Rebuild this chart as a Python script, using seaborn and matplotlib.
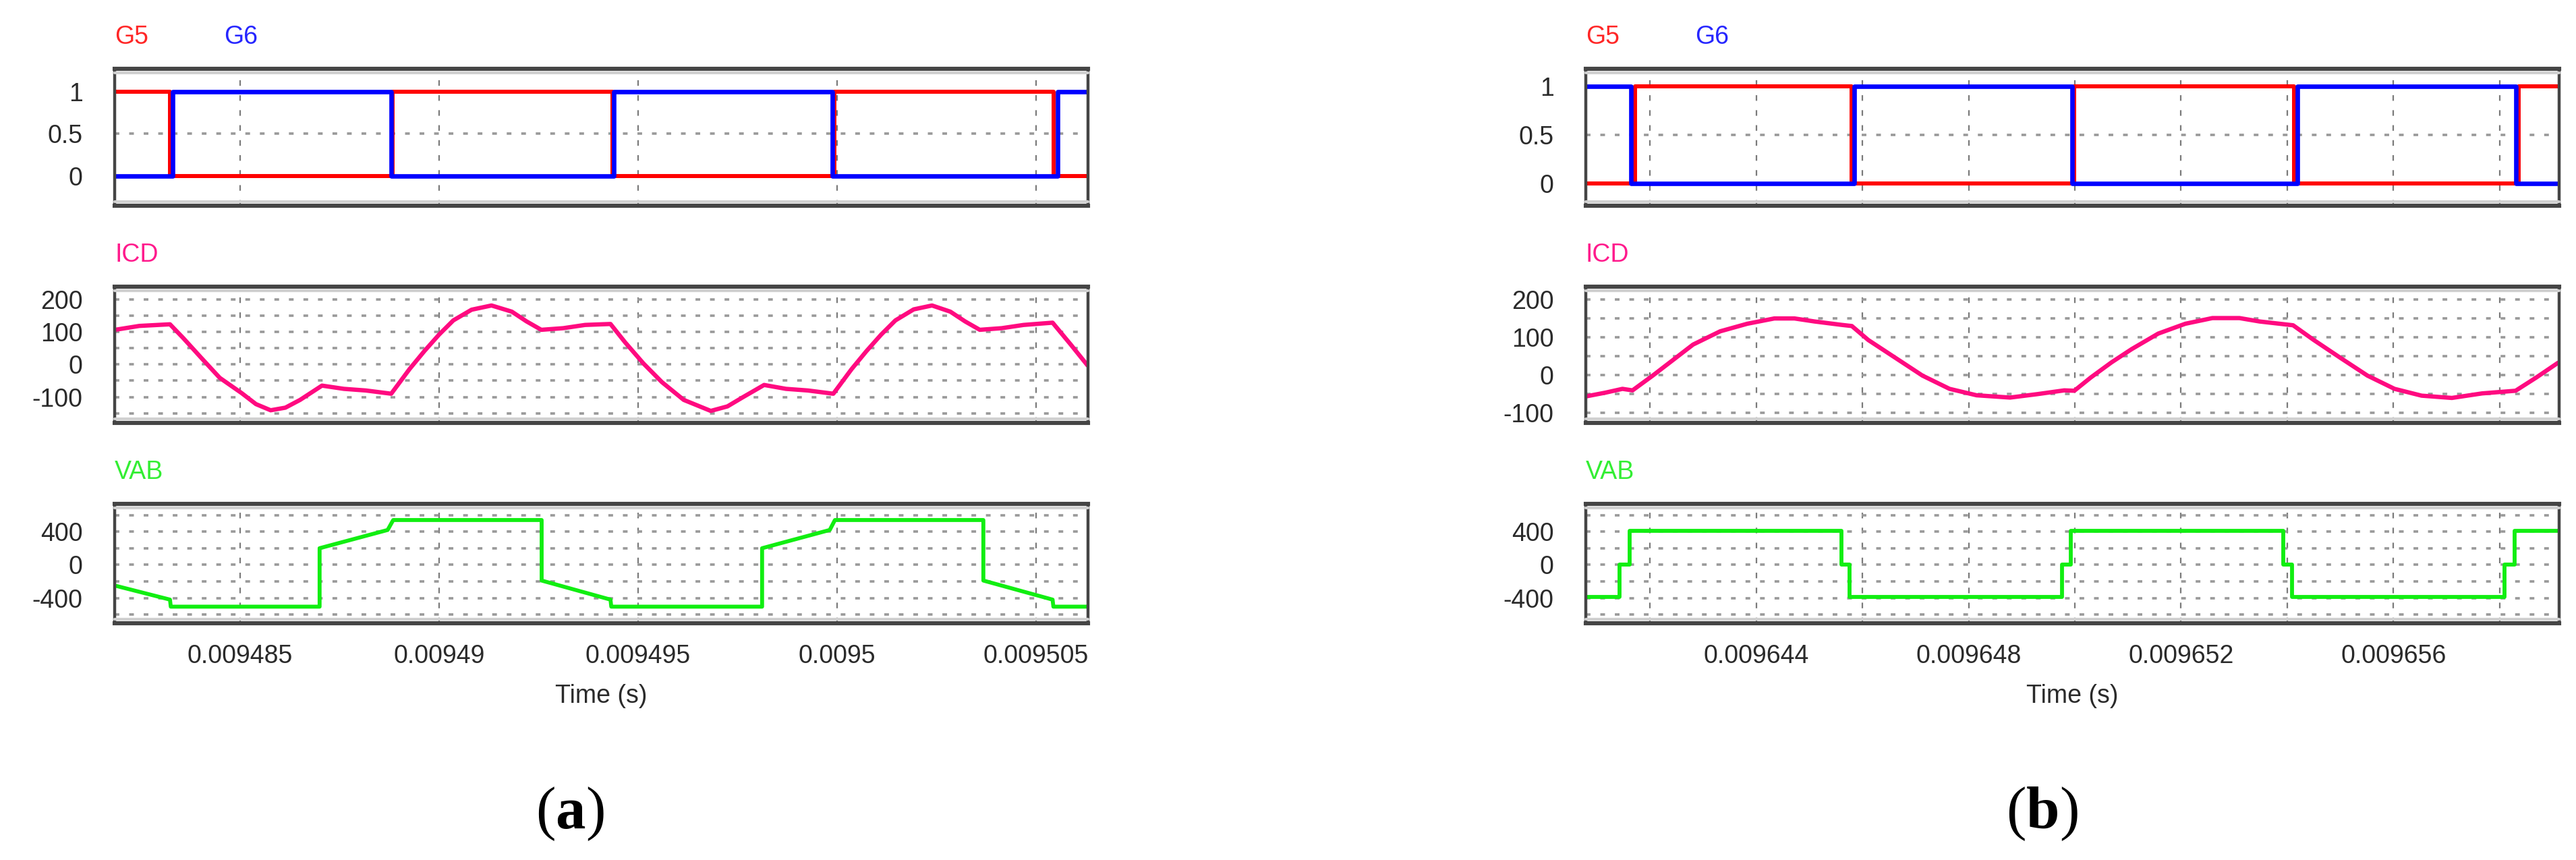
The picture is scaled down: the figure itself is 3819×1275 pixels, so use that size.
import matplotlib
matplotlib.use("Agg")
import matplotlib.pyplot as plt
from matplotlib.transforms import offset_copy
import seaborn as sns
import pandas as pd

# ---- values (time in microseconds) ----

# panel (a)
g5_a_t = [9481.85, 9483.24, 9488.84, 9494.36, 9499.93, 9505.44, 9506.31]
g5_a_v = [1, 0, 1, 0, 1, 0, 0]
g6_a_t = [9481.85, 9483.31, 9488.80, 9494.40, 9499.89, 9505.54, 9506.31]
g6_a_v = [0, 1, 0, 1, 0, 1, 1]

icd_a_t = [9481.86, 9482.47, 9483.24, 9483.57, 9484.03, 9484.49, 9485.04, 9485.40,
           9485.77, 9486.14, 9486.51, 9487.06, 9487.61, 9488.16, 9488.80, 9489.26,
           9489.63, 9490.00, 9490.36, 9490.82, 9491.32, 9491.83, 9492.20, 9492.57,
           9493.12, 9493.67, 9494.31, 9494.68, 9495.14, 9495.60, 9496.15, 9496.83,
           9497.25, 9497.62, 9498.17, 9498.72, 9499.27, 9499.91, 9500.37, 9500.74,
           9501.11, 9501.47, 9501.93, 9502.39, 9502.85, 9503.22, 9503.59, 9504.14,
           9504.69, 9505.42, 9505.88, 9506.30]
icd_a_v = [107, 119, 124, 82, 20, -41, -88, -122,
           -141, -133, -109, -65, -75, -80, -90, -14,
           41, 92, 136, 169, 182, 163, 133, 107,
           112, 122, 125, 68, 3, -54, -109, -143,
           -129, -102, -63, -75, -80, -90, -14, 41,
           92, 136, 170, 182, 163, 133, 107, 112,
           122, 129, 61, -3]

vab_a_t = [9481.85, 9483.24, 9483.26, 9487.00, 9487.00, 9488.71, 9488.85, 9492.58,
           9492.58, 9494.31, 9494.33, 9498.12, 9498.12, 9499.82, 9499.95, 9503.68,
           9503.68, 9505.42, 9505.44, 9506.31]
vab_a_v = [-250, -420, -505, -505, 200, 420, 540, 540,
           -190, -420, -505, -505, 200, 420, 540, 540,
           -190, -420, -505, -505]

# panel (b)
g5_b_t = [9640.79, 9641.72, 9645.80, 9649.99, 9654.13, 9658.36, 9659.12]
g5_b_v = [0, 1, 0, 1, 0, 1, 1]
g6_b_t = [9640.79, 9641.64, 9645.84, 9649.95, 9654.19, 9658.31, 9659.12]
g6_b_v = [1, 0, 1, 0, 1, 0, 0]

icd_b_t = [9640.79, 9641.16, 9641.48, 9641.67, 9642.05, 9642.43, 9642.81, 9643.32,
           9643.83, 9644.34, 9644.72, 9645.10, 9645.61, 9645.80, 9646.11, 9646.62,
           9647.13, 9647.64, 9648.15, 9648.78, 9649.29, 9649.80, 9649.99, 9650.30,
           9650.69, 9651.07, 9651.57, 9652.08, 9652.59, 9653.10, 9653.48, 9654.11,
           9654.50, 9655.00, 9655.51, 9656.02, 9656.53, 9657.10, 9657.67, 9658.30,
           9658.69, 9659.10]
icd_b_v = [-56, -46, -36, -40, -1, 40, 81, 116,
           136, 150, 150, 142, 133, 130, 93, 46,
           -1, -36, -53, -59, -50, -40, -41, -6,
           34, 69, 110, 136, 151, 151, 142, 132,
           93, 46, -1, -36, -54, -60, -48, -41,
           -6, 33]

vab_b_t = [9640.79, 9641.42, 9641.61, 9645.61, 9645.76, 9649.76, 9649.92, 9653.92,
           9654.09, 9658.09, 9658.28, 9659.12]
vab_b_v = [-390, 0, 410, 0, -390, 0, 410, 0, -390, 0, 410, 410]

# axis ranges / ticks
xlim_a = (9481.85, 9506.31)
xlim_b = (9640.79, 9659.12)
xticks_a = [9485, 9490, 9495, 9500, 9505]
xticklabels_a = ["0.009485", "0.00949", "0.009495", "0.0095", "0.009505"]
xgrid_b = [9642, 9644, 9646, 9648, 9650, 9652, 9654, 9656, 9658]
xticks_b = [9644, 9648, 9652, 9656]
xticklabels_b = ["0.009644", "0.009648", "0.009652", "0.009656"]

ylim_gate_a = (-0.352, 1.268)
ylim_gate_b = (-0.232, 1.182)
gate_ticks = [0, 0.5, 1]
gate_labels = ["0", "0.5", "1"]
ylim_icd_a = (-180, 240)
ylim_icd_b = (-126, 234)
icd_grid = [-150, -100, -50, 0, 50, 100, 150, 200]
icd_ticks = [-100, 0, 100, 200]
icd_labels = ["-100", "0", "100", "200"]
ylim_vab = (-705, 735)
vab_grid = [-600, -400, -200, 0, 200, 400, 600]
vab_ticks = [-400, 0, 400]
vab_labels = ["-400", "0", "400"]

RED, BLUE, PINK, GREEN = "#ff0000", "#0000ff", "#ff0a80", "#11ee11"

sns.set_theme(style="white")
plt.rcParams["font.family"] = ["Liberation Sans", "DejaVu Sans"]
plt.rcParams["lines.scale_dashes"] = False
plt.rcParams["mathtext.fontset"] = "custom"
plt.rcParams["mathtext.bf"] = "Liberation Serif:bold"
plt.rcParams["mathtext.rm"] = "Liberation Serif"

W, H = 3819, 1275
fig = plt.figure(figsize=(W / 100, H / 100), dpi=100)

def px_axes(x0, x1, y0, y1):
    return fig.add_axes([x0 / W, 1 - y1 / H, (x1 - x0) / W, (y1 - y0) / H])

def sec(ts):
    return [t * 1e-6 for t in ts]

def frame(ax):
    for s in ["top", "bottom"]:
        ax.spines[s].set_linewidth(4.4)
        ax.spines[s].set_color("#454545")
    for s in ["left", "right"]:
        ax.spines[s].set_linewidth(3.2)
        ax.spines[s].set_color("#454545")
    # light inner band below/above the thick frame lines
    ax.plot([0, 1], [1, 1], transform=offset_copy(ax.transAxes, fig=fig, y=-6, units="dots"),
            color="#d0d0d0", lw=3.0, clip_on=False, zorder=3)
    ax.plot([0, 1], [0, 0], transform=offset_copy(ax.transAxes, fig=fig, y=6, units="dots"),
            color="#d0d0d0", lw=3.0, clip_on=False, zorder=3)
    ax.tick_params(length=0, labelsize=27, labelcolor="#2a2a2a")
    ax.tick_params(axis="y", pad=34)
    ax.tick_params(axis="x", pad=22)

def grid(ax, xg, yg):
    ax.set_axisbelow(True)
    for x in xg:
        ax.axvline(x * 1e-6, color="#7a7a7a", lw=1.6, ls=(0, (6, 10)), zorder=0.5)
    for y in yg:
        ax.axhline(y, color="#999999", lw=2.6, ls=(0, (5, 10.5)), zorder=0.6)

def label(ax, text, color, dx=0):
    ax.text(0, 1, text, color=color, fontsize=27, ha="left", va="center",
            transform=offset_copy(ax.transAxes, fig=fig, x=dx, y=47, units="dots"))

panels = [
    dict(x0=170, x1=1613, xlim=xlim_a, xg=xticks_a, xt=xticks_a, xl=xticklabels_a,
         g5=(g5_a_t, g5_a_v), g6=(g6_a_t, g6_a_v), icd=(icd_a_t, icd_a_v),
         vab=(vab_a_t, vab_a_v), ylg=ylim_gate_a, yli=ylim_icd_a, tag="a", tagx=845),
    dict(x0=2351, x1=3794, xlim=xlim_b, xg=xgrid_b, xt=xticks_b, xl=xticklabels_b,
         g5=(g5_b_t, g5_b_v), g6=(g6_b_t, g6_b_v), icd=(icd_b_t, icd_b_v),
         vab=(vab_b_t, vab_b_v), ylg=ylim_gate_b, yli=ylim_icd_b, tag="b", tagx=3027),
]

for p in panels:
    ax1 = px_axes(p["x0"], p["x1"], 102, 305)
    ax2 = px_axes(p["x0"], p["x1"], 425, 627)
    ax3 = px_axes(p["x0"], p["x1"], 747, 924)

    # gating signals
    for (t, v), c, lw in [(p["g5"], RED, 4.3), (p["g6"], BLUE, 4.8)]:
        df = pd.DataFrame({"t": sec(t), "v": v})
        sns.lineplot(data=df, x="t", y="v", ax=ax1, color=c, lw=lw, sort=False,
                     estimator=None, drawstyle="steps-post", zorder=2)
    ax1.set_ylim(*p["ylg"])
    ax1.set_yticks(gate_ticks, gate_labels)
    grid(ax1, p["xg"], [0.5])
    label(ax1, "G5", "#ff2626")
    label(ax1, "G6", "#2626ff", dx=162)

    # inductor current
    df = pd.DataFrame({"t": sec(p["icd"][0]), "v": p["icd"][1]})
    sns.lineplot(data=df, x="t", y="v", ax=ax2, color=PINK, lw=4.6, sort=False,
                 estimator=None, zorder=2)
    ax2.set_ylim(*p["yli"])
    ax2.set_yticks(icd_ticks, icd_labels)
    grid(ax2, p["xg"], icd_grid)
    label(ax2, "ICD", "#ff1a8c")

    # bridge voltage
    df = pd.DataFrame({"t": sec(p["vab"][0]), "v": p["vab"][1]})
    kw = dict(drawstyle="steps-post") if p["tag"] == "b" else {}
    sns.lineplot(data=df, x="t", y="v", ax=ax3, color=GREEN, lw=4.2, sort=False,
                 estimator=None, zorder=2, **kw)
    ax3.set_ylim(*ylim_vab)
    ax3.set_yticks(vab_ticks, vab_labels)
    grid(ax3, p["xg"], vab_grid)
    label(ax3, "VAB", "#33ee33")

    for ax in (ax1, ax2, ax3):
        ax.set_xlim(p["xlim"][0] * 1e-6, p["xlim"][1] * 1e-6)
        ax.set_ylabel("")
        ax.set_xlabel("")
        frame(ax)
    for ax in (ax1, ax2):
        ax.set_xticks([])
    ax3.set_xticks(sec(p["xt"]), p["xl"])
    ax3.set_xlabel("Time (s)", fontsize=27, color="#2a2a2a", labelpad=17)

    fig.text(p["tagx"] / W, 1 - 1207 / H, "(" + r"$\mathbf{" + p["tag"] + "}$" + ")",
             family="Liberation Serif", fontsize=64, ha="center", va="center", color="black")

fig.savefig("out.png", dpi=100, facecolor="white")
